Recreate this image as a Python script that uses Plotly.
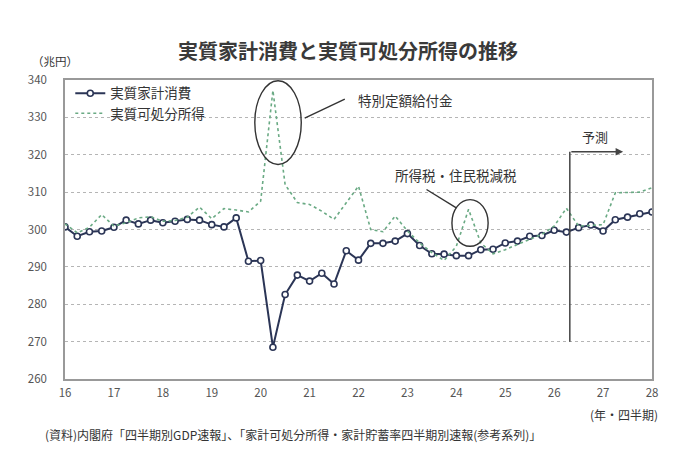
import plotly.graph_objects as go

# quarters 2016Q1 .. 2028Q1 (x as year + (quarter-1)/4)
years = list(range(2016, 2029))
quarters = [y + q / 4 for y in years for q in range(4)][:49]

# 実質家計消費 (兆円)
consumption = [
    300.7, 298.2, 299.4, 299.6, 300.6, 302.5, 301.5, 302.5,
    301.8, 302.2, 302.7, 302.5, 301.3, 300.7, 303.1, 291.5,
    291.7, 268.5, 282.6, 287.8, 286.2, 288.3, 285.4, 294.3,
    291.8, 296.3, 296.3, 296.9, 298.9, 295.7, 293.5, 293.4,
    293.0, 293.0, 294.6, 294.7, 296.4, 296.9, 298.2, 298.4,
    299.8, 299.3, 300.5, 301.2, 299.6, 302.6, 303.3, 304.2,
    304.7,
]

# 実質可処分所得 (兆円)
income = [
    301.5, 299.1, 300.6, 304.0, 300.9, 301.8, 303.1, 303.4,
    302.2, 302.4, 303.3, 306.0, 302.9, 305.6, 305.2, 304.7,
    307.6, 337.2, 312.0, 307.2, 306.7, 304.9, 302.7, 307.0,
    311.6, 300.0, 299.4, 303.6, 299.6, 296.4, 293.8, 291.7,
    295.5, 305.4, 296.4, 293.5, 294.6, 296.0, 297.3, 298.7,
    300.9, 305.7, 300.9, 301.2, 301.3, 309.8, 310.0, 310.0,
    311.2,
]

tick_labels = [str(y - 2000) for y in years]

navy = "#2b3556"
green = "#6aaa84"
txt = "#333333"
font_family = "Noto Sans CJK JP"

fig = go.Figure()

fig.add_trace(go.Scatter(
    x=quarters, y=consumption, name="実質家計消費",
    mode="lines+markers", legend="legend",
    line=dict(color=navy, width=2),
    marker=dict(symbol="circle", size=6, color="white",
                line=dict(color=navy, width=1.6)),
))
fig.add_trace(go.Scatter(
    x=quarters, y=income, name="実質可処分所得",
    mode="lines", legend="legend2",
    line=dict(color=green, width=1.6, dash="dot"),
))

# callout ellipses
fig.add_shape(type="circle", xref="x", yref="y",
              x0=2019.88, x1=2020.83, y0=317.4, y1=339.8,
              line=dict(color=txt, width=1.4))
fig.add_shape(type="circle", xref="x", yref="y",
              x0=2023.91, x1=2024.65, y0=295.5, y1=308.0,
              line=dict(color=txt, width=1.4))
fig.add_shape(type="line", xref="x", yref="y",
              x0=2020.90, y0=329.8, x1=2021.72, y1=334.9,
              line=dict(color=txt, width=1.4))
fig.add_shape(type="line", xref="x", yref="y",
              x0=2023.39, y0=310.7, x1=2024.0, y1=305.8,
              line=dict(color=txt, width=1.4))

# forecast marker
fig.add_shape(type="line", xref="x", yref="y",
              x0=2026.32, y0=270, x1=2026.32, y1=320.8,
              line=dict(color="#444444", width=1.5))
fig.add_annotation(x=2027.41, y=320.8, ax=2026.32, ay=320.8,
                   xref="x", yref="y", axref="x", ayref="y",
                   text="", showarrow=True, arrowhead=2, arrowsize=1,
                   arrowwidth=1.5, arrowcolor="#444444")

fig.add_annotation(x=2022.97, y=334.7, xref="x", yref="y",
                   text="特別定額給付金", showarrow=False,
                   font=dict(size=13.5, color=txt))
fig.add_annotation(x=2024.0, y=314.6, xref="x", yref="y",
                   text="所得税・住民税減税", showarrow=False,
                   font=dict(size=13.5, color=txt))
fig.add_annotation(x=2026.83, y=324.8, xref="x", yref="y",
                   text="予測", showarrow=False,
                   font=dict(size=13, color=txt))

fig.add_annotation(x=-0.06, y=1.064, xref="paper", yref="paper",
                   xanchor="left", yanchor="middle",
                   text="（兆円）", showarrow=False,
                   font=dict(size=11.5, color=txt))
fig.add_annotation(x=1.0136, y=-0.12, xref="paper", yref="paper",
                   xanchor="right", yanchor="middle",
                   text="(年・四半期)", showarrow=False,
                   font=dict(size=12, color=txt))
fig.add_annotation(x=-0.0375, y=-0.185, xref="paper", yref="paper",
                   xanchor="left", yanchor="middle",
                   text="(資料)内閣府「四半期別GDP速報」、「家計可処分所得・家計貯蓄率四半期別速報(参考系列)」",
                   showarrow=False, font=dict(size=12, color=txt))

legend_common = dict(xanchor="left", yanchor="middle",
                     bgcolor="rgba(0,0,0,0)", font=dict(size=13.5, color=txt),
                     itemwidth=30)

fig.update_layout(
    width=680, height=466,
    margin=dict(l=57, r=36, t=72, b=95),
    paper_bgcolor="white", plot_bgcolor="white",
    font=dict(family=font_family, color=txt),
    title=dict(text="実質家計消費と実質可処分所得の推移",
               x=0.5, xanchor="center", y=0.905, yanchor="middle",
               font=dict(size=20, color="#3a3a3a", weight="bold")),
    showlegend=True,
    legend=dict(x=0.009, y=0.955, **legend_common),
    legend2=dict(x=0.009, y=0.888, **legend_common),
)

fig.update_xaxes(
    range=[2016, 2028], tickvals=years, ticktext=tick_labels,
    showgrid=False, showline=True, linecolor="#999999", linewidth=1.5,
    mirror=True, ticks="", ticklabelstandoff=2,
    tickfont=dict(size=11.5, color="#555555"),
)
fig.update_yaxes(
    range=[260, 340], dtick=10,
    showgrid=True, gridcolor="#b5b5b5", griddash="dot", gridwidth=1,
    showline=True, linecolor="#999999", linewidth=1.5, mirror=True,
    ticks="", ticklabelstandoff=14, zeroline=False,
    tickfont=dict(size=11.5, color="#555555"),
)

fig.write_html("out.html")
